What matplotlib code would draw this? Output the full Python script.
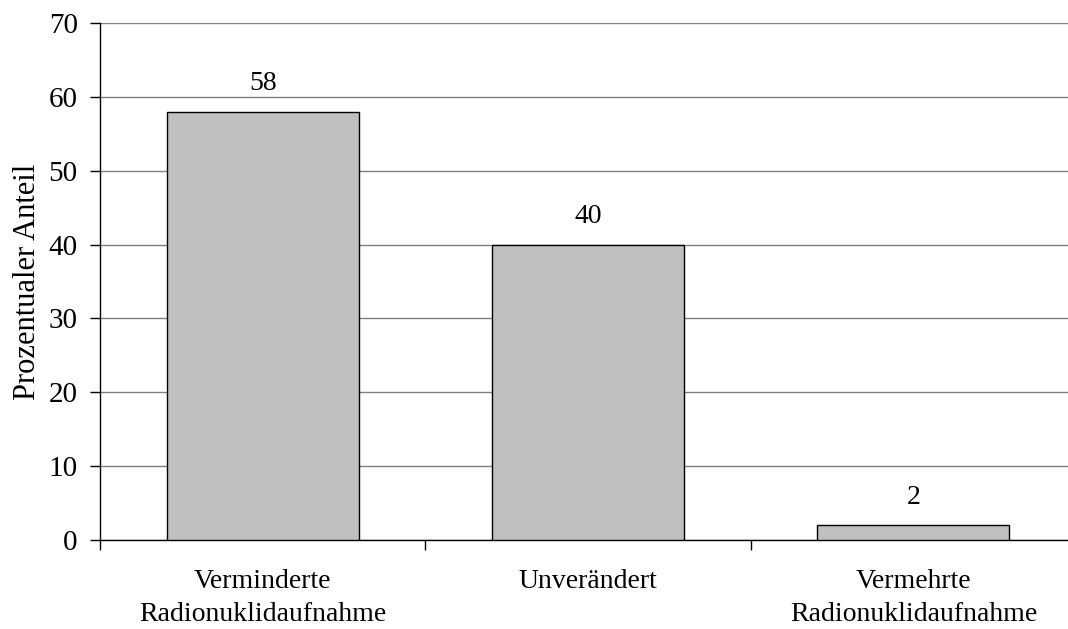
import matplotlib
matplotlib.use("Agg")
import matplotlib.pyplot as plt

categories = ["Verminderte\nRadionuklidaufnahme", "Unverändert", "Vermehrte\nRadionuklidaufnahme"]
values = [58, 40, 2]
yticks = [0, 10, 20, 30, 40, 50, 60, 70]
ylabel = "Prozentualer Anteil"

plt.rcParams['font.family'] = ['Liberation Serif', 'DejaVu Serif']

W, H = 1068, 629
fig = plt.figure(figsize=(W / 100, H / 100), dpi=100)
left, right, top, bottom = 100, 1076, 23, 540
ax = fig.add_axes([left / W, 1 - bottom / H, (right - left) / W, (bottom - top) / H])

x = list(range(len(categories)))
ax.bar(x, values, width=0.59, color="#C0C0C0", edgecolor="black", linewidth=1, zorder=3)
ax.set_xlim(-0.5, len(categories) - 0.5)
ax.set_ylim(0, 70)
ax.set_yticks(yticks)
ax.set_yticklabels([str(t) for t in yticks], fontsize=21)
ax.yaxis.grid(True, color="#808080", linewidth=1, zorder=0)
ax.set_axisbelow(True)

ax.set_xticks([i - 0.5 for i in range(len(categories) + 1)])
ax.set_xticklabels([])
ax.set_xticks(x, minor=True)
ax.set_xticklabels(categories, minor=True, fontsize=20, linespacing=1.4)
ax.tick_params(axis="x", which="minor", length=0, pad=21)
ax.tick_params(axis="x", which="major", length=7, direction="out", width=1)
ax.tick_params(axis="y", length=7, direction="out", width=1, pad=9)

for s in ["top", "right"]:
    ax.spines[s].set_visible(False)
ax.spines["left"].set_linewidth(1)
ax.spines["bottom"].set_linewidth(1)

ax.set_ylabel(ylabel, fontsize=22, labelpad=5)

for xi, v in zip(x, values):
    ax.annotate(str(v), (xi, v), xytext=(0, 20), textcoords="offset points",
                ha="center", va="center", fontsize=20)

fig.savefig("out.png", dpi=100)
